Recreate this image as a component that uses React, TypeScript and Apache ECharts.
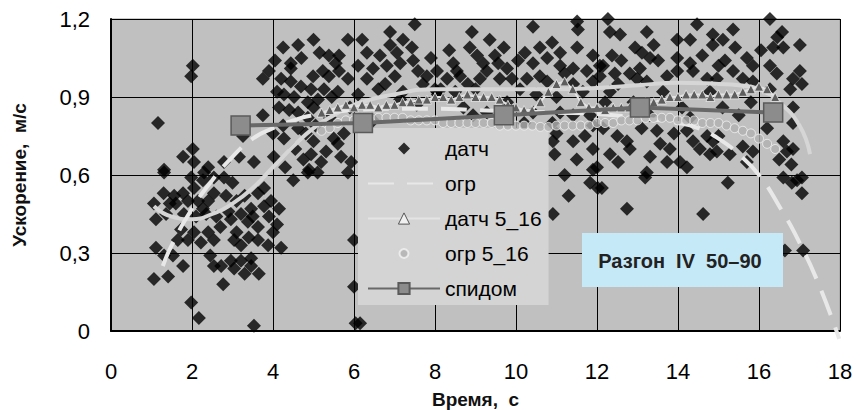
import React, { useEffect, useRef } from "react";
import * as echarts from "echarts";

const FONT = '"Liberation Sans", Arial, sans-serif';

// Scatter "датч" (time s, acceleration m/s)
const datchPoints: number[][] = [
  [1.06,0.49],[1.11,0.43],[1.3,0.53],[1.56,0.52],[1.78,0.53],[1.6,0.49],[1.36,0.45],[1.8,0.45],[1.73,0.39],[1.65,0.35],
  [1.11,0.32],[1.31,0.29],[1.53,0.29],[1.78,0.25],[1.06,0.2],[1.41,0.21],[1.98,0.11],[2.17,0.05],[1.9,0.35],[1.16,0.8],
  [2.02,1.02],[1.98,0.98],[3.75,0.97],[2.02,0.7],[1.78,0.67],[2.05,0.65],[1.31,0.62],[2.4,0.63],[2.79,0.65],[3.16,0.67],
  [3.53,0.65],[3.75,0.83],[3.26,0.75],[4.0,0.76],[4.02,0.67],[2.05,0.55],[2.27,0.58],[2.54,0.59],[2.79,0.59],[3.0,0.57],
  [2.15,0.5],[2.4,0.5],[2.27,0.47],[2.84,0.52],[2.54,0.53],[2.05,0.38],[2.4,0.38],[2.54,0.35],[2.22,0.34],[2.96,0.43],
  [3.21,0.45],[3.46,0.47],[3.38,0.42],[3.63,0.4],[3.78,0.48],[3.95,0.5],[4.15,0.47],[3.63,0.53],[3.78,0.55],[4.0,0.38],
  [4.2,0.32],[3.88,0.33],[3.63,0.35],[3.04,0.35],[3.21,0.33],[2.54,0.25],[2.72,0.25],[2.96,0.27],[3.21,0.27],[3.46,0.28],
  [3.46,0.25],[3.65,0.22],[3.04,0.24],[2.77,0.18],[3.53,0.02],[6.0,0.35],[6.0,0.17],[6.04,0.03],[4.86,0.61],[5.1,0.61],
  [5.85,0.61],[1.31,0.61],[1.98,0.59],[2.3,0.61],[2.6,0.44],[2.9,0.46],[3.1,0.5],[3.3,0.52],[3.5,0.44],[2.35,0.45],
  [2.7,0.4],[3.1,0.38],[3.4,0.36],[1.45,0.49],[1.9,0.5],[2.1,0.44],[3.9,0.44],[4.1,0.41],[3.3,0.22],[2.45,0.29],
  [4.25,1.09],[4.62,1.1],[5.0,1.12],[4.44,1.03],[4.44,1.01],[5.38,1.06],[5.63,1.06],[5.85,1.12],[5.23,1.0],[5.63,1.0],
  [5.38,0.98],[4.2,0.97],[4.44,0.96],[4.99,0.98],[5.85,0.97],[4.69,0.94],[4.94,0.93],[5.26,0.93],[5.6,0.92],[4.27,0.91],
  [4.52,0.9],[4.15,0.86],[4.86,0.88],[5.11,0.89],[4.62,0.84],[4.86,0.82],[4.25,0.79],[4.62,0.78],[4.81,0.76],[4.27,0.74],
  [5.0,0.73],[5.75,0.76],[5.6,0.72],[5.31,0.69],[5.68,0.67],[4.94,0.68],[5.19,0.65],[5.93,0.65],[4.89,0.62],[6.1,1.02],
  [6.1,0.91],[4.4,0.85],[4.55,0.7],[4.75,0.66],[5.45,0.9],[5.0,0.86],[5.5,0.74],[4.3,0.63],[4.7,1.05],[5.15,1.07],
  [5.55,1.03],[4.1,0.92],[3.9,1.0],[4.05,1.04],[5.9,0.86],[5.4,0.82],[5.05,0.79],[4.5,0.58],
  [7.5,1.18],[6.89,1.15],[7.21,1.12],[6.89,1.1],[6.32,1.07],[6.64,1.06],[7.06,1.07],[7.43,1.09],[6.47,1.01],[6.81,1.02],
  [7.14,1.03],[7.46,1.04],[6.32,0.97],[7.01,0.98],[7.58,1.0],[7.8,0.98],[8.05,1.0],[8.3,0.97],[6.77,0.95],[7.21,0.92],
  [8.05,0.92],[8.45,1.03],[8.54,1.0],[8.91,1.15],[8.86,1.09],[9.04,1.06],[9.19,1.03],[9.28,1.0],[9.48,1.06],[9.56,1.03],
  [9.78,1.01],[9.11,0.97],[9.6,0.97],[9.9,0.97],[8.62,0.98],[8.81,0.95],[10.42,1.17],[10.22,1.07],[10.59,1.09],[10.89,1.11],
  [10.42,1.03],[10.77,1.05],[11.09,1.07],[11.51,1.19],[11.53,1.16],[11.51,1.09],[11.9,1.06],[11.09,1.02],[11.41,1.01],[10.27,0.97],
  [10.59,0.98],[10.77,0.96],[11.75,1.0],[12.07,1.02],[11.41,0.95],[11.9,0.96],[8.07,0.91],[8.0,0.93],[8.14,0.93],[9.28,0.84],
  [10.42,0.84],[11.09,0.84],[8.94,0.83],[10.91,0.73],[11.41,0.73],[11.9,0.7],[12.0,0.63],[7.14,0.89],[7.55,0.87],[9.78,0.88],
  [11.41,0.83],[11.83,0.83],[11.9,0.79],[6.47,0.81],[6.6,0.93],[7.7,0.95],[8.35,1.08],[9.35,1.12],[10.05,1.04],[10.1,0.93],
  [6.2,1.12],[7.9,1.05],[9.7,1.09],[11.2,0.99],[11.65,0.92],[10.5,0.91],[9.0,0.93],[8.5,0.92],[11.0,0.9],[10.9,0.8],
  [10.2,0.8],[8.7,0.86],[10.91,0.45],[11.83,0.57],[12.02,0.55],[11.9,0.62],[6.15,0.03],[10.95,0.68],[11.2,0.6],[11.5,0.66],
  [11.3,0.52],[11.0,0.76],[11.7,0.75],
  [12.27,1.2],[12.32,1.15],[12.57,1.14],[13.23,1.15],[12.37,1.06],[12.94,1.09],[13.11,1.07],[13.31,1.05],[13.51,1.04],[12.15,1.02],
  [12.44,0.99],[13.06,1.01],[12.99,0.97],[13.23,0.96],[12.07,0.98],[13.73,0.98],[13.98,1.05],[13.98,1.12],[14.3,1.12],[14.47,1.18],
  [14.86,1.14],[15.11,1.12],[15.36,1.16],[15.41,1.09],[14.86,1.1],[14.3,1.03],[13.98,1.0],[14.37,1.0],[15.16,1.04],[15.36,1.0],
  [15.7,1.05],[15.85,1.02],[15.6,0.97],[14.72,0.97],[14.96,0.97],[16.27,1.2],[16.57,1.15],[17.01,1.1],[16.35,1.09],[16.6,1.09],
  [16.27,1.02],[16.44,0.99],[17.01,1.0],[16.84,0.97],[17.06,0.95],[16.77,0.93],[16.27,0.93],[16.84,0.86],[16.84,0.8],[12.32,0.92],
  [12.52,0.95],[12.81,0.99],[13.63,0.92],[14.79,0.92],[15.85,0.96],[12.74,0.73],[12.81,0.7],[12.32,0.68],[12.52,0.65],[13.31,0.67],
  [13.56,0.72],[13.8,0.7],[13.73,0.65],[14.05,0.65],[14.22,0.77],[14.37,0.73],[14.54,0.7],[14.72,0.75],[14.86,0.73],[14.96,0.69],
  [14.79,0.68],[15.28,0.68],[15.6,0.71],[15.85,0.69],[15.7,0.65],[16.6,0.73],[16.69,0.69],[16.84,0.7],[13.48,0.77],[14.3,0.82],
  [12.15,0.78],[14.22,0.63],[13.23,0.61],[12.12,0.55],[13.19,0.59],[12.74,0.47],[15.23,0.57],[14.62,0.45],[16.6,0.59],[16.81,0.57],
  [17.06,0.59],[17.06,0.53],[16.64,0.31],[17.09,0.31],[16.94,0.58],[12.6,1.04],[13.4,1.1],[14.6,1.06],[15.0,1.02],[16.05,1.08],
  [16.45,1.13],[12.9,0.88],[13.3,0.83],[15.1,0.86],[15.5,0.83],[16.2,0.78],[12.5,0.75],[13.9,0.76],[15.0,0.75],[16.5,0.66],
  [16.8,0.64],[12.2,0.88],[14.1,0.86],[15.8,0.88],[13.1,0.78],
];

// "огр" fitted curve (dashed)
const ogrCurve: number[][] = [
  [1.28,0.25],[1.5,0.33],[2.0,0.47],[2.5,0.58],[3.0,0.67],[3.5,0.74],[4.0,0.78],[4.5,0.81],[5.0,0.83],[6.0,0.85],
  [7.0,0.855],[8.0,0.855],[9.0,0.85],[10.0,0.845],[11.0,0.84],[12.0,0.835],[13.0,0.82],[14.0,0.8],[14.5,0.78],[15.0,0.74],
  [15.5,0.68],[16.0,0.6],[16.5,0.48],[17.0,0.34],[17.5,0.17],[17.98,-0.03],
];

// trend of "датч" (light solid curve)
const datchTrend: number[][] = [
  [1.06,0.48],[1.5,0.44],[2.0,0.43],[2.5,0.45],[3.0,0.49],[3.5,0.55],[4.0,0.63],[4.5,0.71],[5.0,0.78],[5.5,0.83],
  [6.0,0.87],[7.0,0.91],[8.0,0.93],[9.0,0.93],[10.0,0.93],[11.0,0.93],[12.0,0.935],[13.0,0.945],[14.0,0.955],[15.0,0.95],
  [15.5,0.945],[16.0,0.93],[16.5,0.88],[17.0,0.79],[17.26,0.68],
];

// time grid for the 5_16 series
const t516: number[] = [
  5.2,5.4,5.6,5.8,6.0,6.2,6.4,6.6,6.8,7.0,7.2,7.4,7.6,7.8,8.0,8.2,8.4,8.6,8.8,9.0,
  9.2,9.4,9.6,9.8,10.0,10.2,10.4,10.6,10.8,11.0,11.2,11.4,11.6,11.8,12.0,12.2,12.4,12.6,12.8,13.0,
  13.2,13.4,13.6,13.8,14.0,14.2,14.4,14.6,14.8,15.0,15.2,15.4,15.6,15.8,16.0,16.2,16.4,
];
const datch516: number[] = [
  0.84,0.85,0.86,0.87,0.86,0.87,0.87,0.86,0.87,0.87,0.88,0.88,0.89,0.89,0.9,0.9,0.89,0.9,0.91,0.9,
  0.9,0.9,0.89,0.87,0.86,0.85,0.85,0.88,0.92,0.95,0.96,0.93,0.88,0.86,0.86,0.85,0.86,0.86,0.86,0.87,
  0.88,0.88,0.89,0.9,0.9,0.91,0.91,0.91,0.9,0.91,0.91,0.91,0.92,0.93,0.94,0.93,0.9,
];
const ogr516: number[] = [
  0.77,0.78,0.8,0.81,0.81,0.82,0.82,0.82,0.82,0.82,0.82,0.81,0.81,0.81,0.81,0.8,0.8,0.8,0.8,0.8,
  0.8,0.8,0.79,0.79,0.79,0.79,0.79,0.785,0.785,0.79,0.79,0.79,0.79,0.79,0.8,0.8,0.8,0.81,0.81,0.81,
  0.82,0.82,0.82,0.82,0.81,0.81,0.81,0.8,0.8,0.8,0.79,0.78,0.77,0.76,0.74,0.72,0.7,
];

// "спидом"
const spidomX: number[] = [3.2, 6.22, 9.7, 13.06, 16.35];
const spidomY: number[] = [0.79, 0.8, 0.83, 0.86, 0.84];

const xTicks: string[] = ["0", "2", "4", "6", "8", "10", "12", "14", "16", "18"];
const yTicks: string[] = ["0", "0,3", "0,6", "0,9", "1,2"];

const DIAMOND = "path://M5,0L10,5L5,10L0,5Z";
const LEGEND_DIAMOND = "path://M0,0M14,14M7,1L13,7L7,13L1,7Z";
const LEGEND_CIRCLE = "path://M0,0M14,14M7,2.6A4.4,4.4 0 1,1 6.99,2.6Z";
const TRANSPARENT = "rgba(0,0,0,0)";

export default function App() {
  const ref = useRef<HTMLDivElement>(null);
  useEffect(() => {
    if (!ref.current) return;
    const chart = echarts.init(ref.current, null, { renderer: "svg" });
    chart.setOption({
      animation: false,
      textStyle: { fontFamily: FONT },
      grid: {
        left: 111, right: 20, top: 19, bottom: 79,
        containLabel: false,
        outerBoundsMode: "none",
        show: true, backgroundColor: "#c0c0c0", borderColor: "#9a9a9a", borderWidth: 1,
      },
      xAxis: {
        type: "value", min: 0, max: 18, interval: 2,
        name: "Время,  с", nameLocation: "middle", nameGap: 59,
        nameTextStyle: { fontSize: 19, fontWeight: "bold", color: "#111", fontFamily: FONT },
        axisLine: { show: true, onZero: false, lineStyle: { color: "#000", width: 2 } },
        axisTick: { show: false },
        splitLine: { show: true, lineStyle: { color: "#000", width: 1 } },
        axisLabel: {
          fontSize: 22, color: "#000", margin: 29, fontFamily: FONT,
          formatter: (v: number) => xTicks[Math.round(v / 2)] ?? "",
        },
      },
      yAxis: {
        type: "value", min: 0, max: 1.2, interval: 0.3,
        name: "Ускорение,  м/с", nameLocation: "middle", nameGap: 82, nameRotate: 90,
        nameTextStyle: { fontSize: 19, fontWeight: "bold", color: "#111", fontFamily: FONT },
        axisLine: { show: true, onZero: false, lineStyle: { color: "#000", width: 2 } },
        axisTick: { show: false },
        splitLine: { show: true, lineStyle: { color: "#000", width: 1 } },
        axisLabel: {
          fontSize: 22, color: "#000", margin: 21, fontFamily: FONT,
          formatter: (v: number) => yTicks[Math.round(v / 0.3)] ?? "",
        },
      },
      legend: {
        orient: "vertical", left: 358, top: 128,
        padding: [10, 7, 6, 9],
        backgroundColor: "#d4d4d4",
        itemWidth: 72, itemHeight: 14, itemGap: 14,
        symbolKeepAspect: true,
        textStyle: { fontSize: 21, color: "#000", fontFamily: FONT, lineHeight: 21 },
        data: [
          { name: "датч", icon: LEGEND_DIAMOND },
          { name: "огр" },
          { name: "датч 5_16", itemStyle: { color: "#f0f0f0", borderColor: "#555", borderWidth: 1 } },
          { name: "огр 5_16", icon: LEGEND_CIRCLE },
          { name: "спидом" },
        ],
      },
      series: [
        {
          name: "датч", type: "scatter", symbol: DIAMOND, symbolKeepAspect: true, symbolSize: 14,
          itemStyle: { color: "#000" }, data: datchPoints, z: 2,
        },
        {
          name: "trend", type: "line", data: datchTrend, symbol: "none", smooth: true,
          itemStyle: { color: TRANSPARENT },
          lineStyle: { color: "#d6d6d6", width: 4 }, z: 3,
        },
        {
          name: "огр", type: "line", data: ogrCurve, symbol: "none", smooth: true, clip: false,
          itemStyle: { color: TRANSPARENT },
          lineStyle: { color: "#e8e8e8", width: 4, type: [26, 13] }, z: 4,
        },
        {
          name: "датч 5_16", type: "line", symbol: "triangle", symbolSize: 9,
          data: t516.map((t, i) => [t, datch516[i]]),
          lineStyle: { color: "#e4e4e4", width: 2 },
          itemStyle: { color: "#5e5e5e", borderColor: "#e8e8e8", borderWidth: 0.8 }, z: 5,
        },
        {
          name: "огр 5_16", type: "scatter", symbol: "circle", symbolSize: 9,
          data: t516.map((t, i) => [t, ogr516[i]]),
          itemStyle: { color: "#b0b0b0", borderColor: "#f4f4f4", borderWidth: 1 }, z: 6,
        },
        {
          name: "спидом", type: "line", symbol: "rect", symbolSize: 19,
          data: spidomX.map((x, i) => [x, spidomY[i]]),
          lineStyle: { color: "#686868", width: 4 },
          itemStyle: { color: "#8c8c8c", borderColor: "#5a5a5a", borderWidth: 1.5 }, z: 7,
        },
      ],
      graphic: [
        {
          type: "rect", z: 100,
          shape: { x: 582, y: 233, width: 201, height: 54 },
          style: { fill: "#c6e9f8" },
        },
        {
          type: "text", z: 101,
          style: {
            x: 680, y: 261, text: "Разгон  IV  50–90", align: "center", verticalAlign: "middle",
            fontSize: 20, fontWeight: "bold", fontFamily: FONT, fill: "#222",
          },
        },
      ],
    });
    return () => chart.dispose();
  }, []);
  return (
    <div
      ref={ref}
      style={{ position: "absolute", left: 0, top: 0, width: 860, height: 410 }}
    />
  );
}
